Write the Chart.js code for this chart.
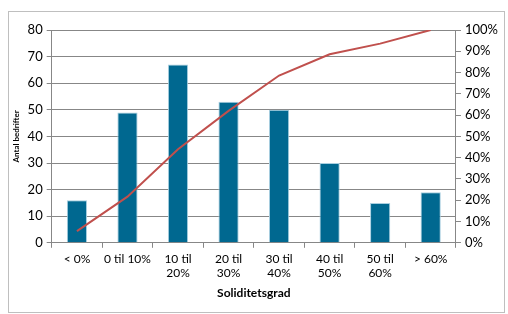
<!DOCTYPE html>
<html>
<head>
<meta charset="utf-8">
<script src="https://cdn.jsdelivr.net/npm/chart.js@4.4.0/dist/chart.umd.min.js"></script>
<style>
  html, body { margin: 0; padding: 0; background: #fff; }
  #wrap { position: relative; width: 508px; height: 314px; }
  #frame { position: absolute; left: 8px; top: 11px; width: 497px; height: 302px; border: 1px solid #bfbfbf; box-sizing: border-box; }
  canvas { position: absolute; left: 0; top: 0; }
</style>
</head>
<body>
<div id="wrap">
  <div id="frame"></div>
  <canvas id="grafico" width="508" height="314"></canvas>
</div>
<script>
// Kategorier og verdier lest fra figuren
const kategorier = [["< 0%"], ["0 til 10%"], ["10 til", "20%"], ["20 til", "30%"], ["30 til", "40%"], ["40 til", "50%"], ["50 til", "60%"], ["> 60%"]];
const antallBedrifter = [16, 49, 67, 53, 50, 30, 15, 19];
const kumulativProsent = [5.5, 21.7, 44, 62, 78.6, 88.6, 93.6, 100];

const fontFamily = "Lato, 'Open Sans', sans-serif";
const gridFarge = "#878787";

const ctx = document.getElementById("grafico").getContext("2d");

const myChart = new Chart(ctx, {
  type: "bar",
  data: {
    labels: kategorier,
    datasets: [
      {
        type: "line",
        data: kumulativProsent,
        yAxisID: "y1",
        borderColor: "#c0504d",
        borderWidth: 2,
        pointRadius: 0,
        tension: 0,
        order: 0,
      },
      {
        data: antallBedrifter,
        yAxisID: "y",
        backgroundColor: "#006890",
        borderColor: "#a9cfe0",
        borderWidth: 1,
        barPercentage: 0.8,
        categoryPercentage: 0.5,
        order: 1,
      },
    ],
  },
  options: {
    responsive: false,
    animation: false,
    layout: { padding: { left: 8, right: 6, top: 30, bottom: 10 } },
    plugins: {
      legend: { display: false },
      tooltip: { enabled: false },
    },
    scales: {
      x: {
        grid: {
          offset: true,
          drawOnChartArea: false,
          drawTicks: true,
          tickLength: 5,
          color: gridFarge,
        },
        border: { color: gridFarge },
        ticks: {
          color: "#000",
          font: { family: fontFamily, size: 12 },
          maxRotation: 0,
          padding: 4,
          lineHeight: 1.1,
        },
        title: {
          display: true,
          text: "Soliditetsgrad",
          color: "#000",
          font: { family: fontFamily, size: 12, weight: "bold" },
          padding: { top: 1 },
        },
      },
      y: {
        position: "left",
        min: 0,
        max: 80,
        ticks: {
          stepSize: 10,
          color: "#000",
          font: { family: fontFamily, size: 13 },
          padding: 4,
        },
        grid: { color: gridFarge, tickLength: 5 },
        border: { color: gridFarge },
        title: {
          display: true,
          text: "Antal bedrifter",
          color: "#000",
          font: { family: fontFamily, size: 8, weight: "bold" },
          padding: { bottom: 2 },
        },
      },
      y1: {
        position: "right",
        min: 0,
        max: 100,
        ticks: {
          stepSize: 10,
          color: "#000",
          font: { family: fontFamily, size: 13 },
          padding: 4,
          callback: (v) => v + "%",
        },
        grid: { drawOnChartArea: false, color: gridFarge, tickLength: 5 },
        border: { color: gridFarge },
      },
    },
  },
});
</script>
</body>
</html>
